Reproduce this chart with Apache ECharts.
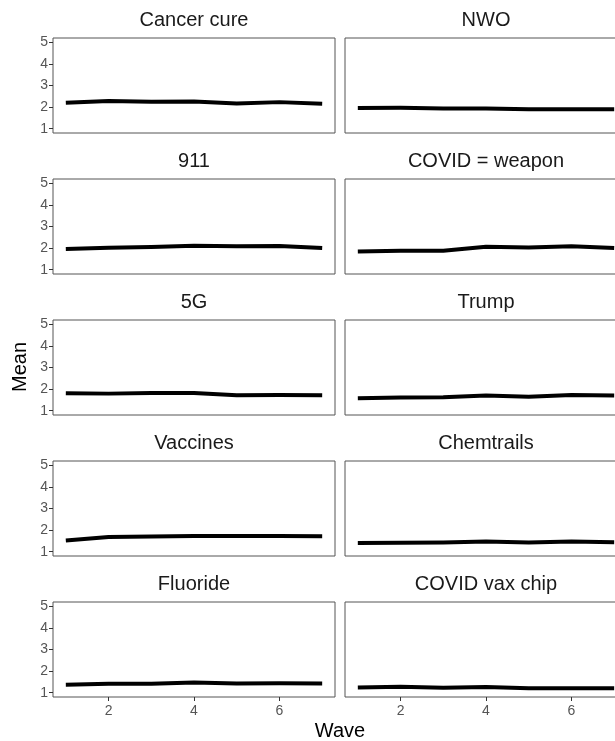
<!DOCTYPE html>
<html>
<head>
<meta charset="utf-8">
<script src="https://cdn.jsdelivr.net/npm/echarts@6/dist/echarts.min.js"></script>
<style>
html,body{margin:0;padding:0;background:#fff;}
#chart{width:615px;height:741px;}
</style>
</head>
<body>
<div id="chart"></div>
<script>
const waves = [1, 2, 3, 4, 5, 6, 7];
const panelTitles = ['Cancer cure', 'NWO', '911', 'COVID = weapon', '5G', 'Trump', 'Vaccines', 'Chemtrails', 'Fluoride', 'COVID vax chip'];
const cancerCure   = [2.20, 2.28, 2.25, 2.26, 2.17, 2.23, 2.16];
const nwo          = [1.96, 1.97, 1.94, 1.93, 1.90, 1.90, 1.90];
const nineEleven   = [1.96, 2.02, 2.05, 2.11, 2.08, 2.10, 2.00];
const covidWeapon  = [1.84, 1.88, 1.88, 2.06, 2.03, 2.08, 2.00];
const fiveG        = [1.81, 1.79, 1.82, 1.82, 1.71, 1.73, 1.71];
const trump        = [1.58, 1.61, 1.62, 1.70, 1.65, 1.73, 1.70];
const vaccines     = [1.52, 1.68, 1.70, 1.73, 1.73, 1.73, 1.72];
const chemtrails   = [1.40, 1.41, 1.43, 1.47, 1.43, 1.47, 1.44];
const fluoride     = [1.37, 1.41, 1.41, 1.47, 1.43, 1.44, 1.43];
const covidVaxChip = [1.24, 1.27, 1.23, 1.26, 1.21, 1.21, 1.20];
const xTicks = [2, 4, 6];
const yTicks = [1, 2, 3, 4, 5];
const xAxisTitle = 'Wave';
const yAxisTitle = 'Mean';

const seriesValues = [cancerCure, nwo, nineEleven, covidWeapon, fiveG, trump, vaccines, chemtrails, fluoride, covidVaxChip];

const FONT = "'Liberation Sans', Arial, sans-serif";
const colLeft = [53, 345];
const panelW = 282;
const rowTop0 = 38;
const rowStep = 141;
const panelH = 95;

const grids = [], xAxes = [], yAxes = [], series = [], graphics = [];
seriesValues.forEach((vals, i) => {
  const r = Math.floor(i / 2), c = i % 2;
  const top = rowTop0 + r * rowStep;
  grids.push({
    left: colLeft[c], top: top, width: panelW, height: panelH,
    show: true, borderColor: '#555', borderWidth: 1, backgroundColor: 'transparent',
    containLabel: false, outerBoundsMode: 'none'
  });
  const bottomRow = r === 4;
  const leftCol = c === 0;
  xAxes.push({
    gridIndex: i, type: 'value', min: 0.7, max: 7.3,
    axisLine: { show: false },
    splitLine: { show: false },
    axisTick: { show: bottomRow, customValues: xTicks, length: 4, lineStyle: { color: '#333', width: 1 } },
    axisLabel: { show: bottomRow, customValues: xTicks, color: '#555', fontSize: 14, fontFamily: FONT, margin: 7 }
  });
  yAxes.push({
    gridIndex: i, type: 'value', min: 0.8, max: 5.2,
    axisLine: { show: false },
    splitLine: { show: false },
    axisTick: { show: leftCol, customValues: yTicks, length: 4, lineStyle: { color: '#333', width: 1 } },
    axisLabel: { show: leftCol, customValues: yTicks, color: '#555', fontSize: 14, fontFamily: FONT, margin: 5 }
  });
  series.push({
    type: 'line', xAxisIndex: i, yAxisIndex: i,
    data: waves.map((w, k) => [w, vals[k]]),
    showSymbol: false, symbol: 'none',
    lineStyle: { color: '#000', width: 4, join: 'round', cap: 'butt' },
    silent: true, animation: false
  });
  graphics.push({
    type: 'text',
    x: colLeft[c] + panelW / 2, y: top - 18,
    style: { text: panelTitles[i], fill: '#1a1a1a', font: '20px ' + FONT, textAlign: 'center', textVerticalAlign: 'middle' }
  });
});

graphics.push({
  type: 'text', x: 340, y: 731,
  style: { text: xAxisTitle, fill: '#000', font: '20px ' + FONT, textAlign: 'center', textVerticalAlign: 'middle' }
});
graphics.push({
  type: 'text', x: 20, y: 367, rotation: Math.PI / 2,
  style: { text: yAxisTitle, fill: '#000', font: '20px ' + FONT, textAlign: 'center', textVerticalAlign: 'middle' }
});

const chart = echarts.init(document.getElementById('chart'), null, { renderer: 'canvas' });
chart.setOption({
  animation: false,
  backgroundColor: '#fff',
  grid: grids,
  xAxis: xAxes,
  yAxis: yAxes,
  series: series,
  graphic: graphics
});
</script>
</body>
</html>
